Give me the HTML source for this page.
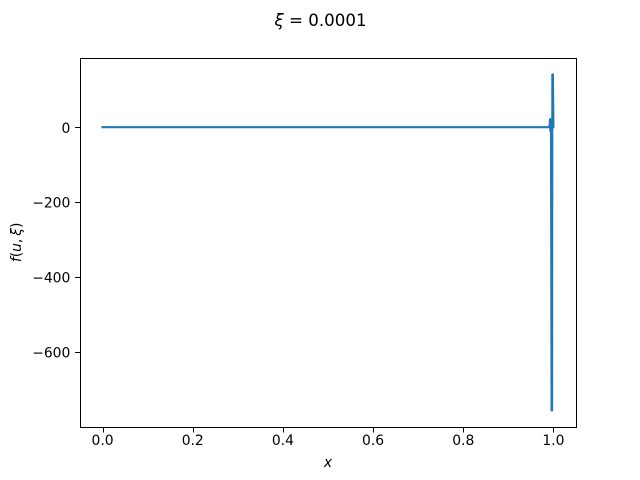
<!DOCTYPE html>
<html>
<head>
<meta charset="utf-8">
<style>
html,body{margin:0;padding:0;background:#fff;}
svg{display:block;}
text{font-family:"DejaVu Sans",sans-serif;fill:#000;}
</style>
</head>
<body>
<svg id="chart" xmlns="http://www.w3.org/2000/svg" width="640" height="480" viewBox="0 0 640 480">
  <rect x="0" y="0" width="640" height="480" fill="#fff"/>
  <text x="320.5" y="26" font-size="16.67" text-anchor="middle"><tspan font-style="italic">ξ</tspan> = 0.0001</text>
  <g id="series"></g>
  <rect x="80.5" y="58.5" width="496" height="369" fill="none" stroke="#000" stroke-width="1"/>
  <g id="ticks"></g>
  <text x="328" y="467" font-size="13.89" font-style="italic" text-anchor="middle">x</text>
  <text transform="translate(21,242.4) rotate(-90)" font-size="13.89" text-anchor="middle"><tspan font-style="italic">f</tspan>(<tspan font-style="italic">u</tspan>,<tspan font-size="9"> </tspan><tspan font-style="italic">ξ</tspan>)</text>
</svg>
<script>
const xValues = [0, 0.2, 0.5, 0.8, 0.98, 0.991, 0.9925, 0.993, 0.9945, 0.9958, 0.997, 0.9975, 0.9988, 1];
const yValues = [0, 0, 0, 0, 0, 0, 22, -10, 20, -756, -756, 141, 141, 0];
const xTickValues = [0, 0.2, 0.4, 0.6, 0.8, 1];
const xTickLabels = ['0.0', '0.2', '0.4', '0.6', '0.8', '1.0'];
const yTickValues = [0, -200, -400, -600];
const yTickLabels = ['0', '\u2212200', '\u2212400', '\u2212600'];

const NS = 'http://www.w3.org/2000/svg';
const plotLeft = 80, plotRight = 576, plotTop = 57.6, plotBottom = 427.2;
const xMin = Math.min(...xValues), xMax = Math.max(...xValues);
const yMin = Math.min(...yValues), yMax = Math.max(...yValues);
const xPad = (xMax - xMin) * 0.05, yPad = (yMax - yMin) * 0.05;
function xScale(v) {
  return plotLeft + (v - (xMin - xPad)) / ((xMax + xPad) - (xMin - xPad)) * (plotRight - plotLeft);
}
function yScale(v) {
  return plotBottom - (v - (yMin - yPad)) / ((yMax + yPad) - (yMin - yPad)) * (plotBottom - plotTop);
}
function snap(px) {
  return Math.floor(px + 0.5) + 0.5;
}

const seriesLayer = document.getElementById('series');
const line = document.createElementNS(NS, 'polyline');


line.setAttribute('points', xValues.map((x, i) => xScale(x).toFixed(2) + ',' + yScale(yValues[i]).toFixed(2)).join(' '));
line.setAttribute('fill', 'none');
line.setAttribute('stroke', '#1f77b4');
line.setAttribute('stroke-width', '2.08');
line.setAttribute('stroke-linejoin', 'round');
line.setAttribute('stroke-linecap', 'square');
seriesLayer.appendChild(line);

const tickLayer = document.getElementById('ticks');
xTickValues.forEach((v, i) => {
  const px = xScale(v);
  const mark = document.createElementNS(NS, 'line');
  
  
  mark.setAttribute('x1', snap(px));
  mark.setAttribute('x2', snap(px));
  mark.setAttribute('y1', 427.5);
  mark.setAttribute('y2', 432.5);
  mark.setAttribute('stroke', '#000');
  mark.setAttribute('stroke-width', '1');
  tickLayer.appendChild(mark);
  const label = document.createElementNS(NS, 'text');
  
  
  label.setAttribute('x', px);
  label.setAttribute('y', 445);
  label.setAttribute('font-size', '13.89');
  label.setAttribute('text-anchor', 'middle');
  label.textContent = xTickLabels[i];
  tickLayer.appendChild(label);
});
yTickValues.forEach((v, i) => {
  const py = yScale(v);
  const mark = document.createElementNS(NS, 'line');
  
  
  mark.setAttribute('x1', 75);
  mark.setAttribute('x2', 80.5);
  mark.setAttribute('y1', snap(py));
  mark.setAttribute('y2', snap(py));
  mark.setAttribute('stroke', '#000');
  mark.setAttribute('stroke-width', '1');
  tickLayer.appendChild(mark);
  const label = document.createElementNS(NS, 'text');
  
  
  label.setAttribute('x', plotLeft - 9.7);
  label.setAttribute('y', py + 5.6);
  label.setAttribute('font-size', '13.89');
  label.setAttribute('text-anchor', 'end');
  label.textContent = yTickLabels[i];
  tickLayer.appendChild(label);
});
</script>
</body>
</html>
